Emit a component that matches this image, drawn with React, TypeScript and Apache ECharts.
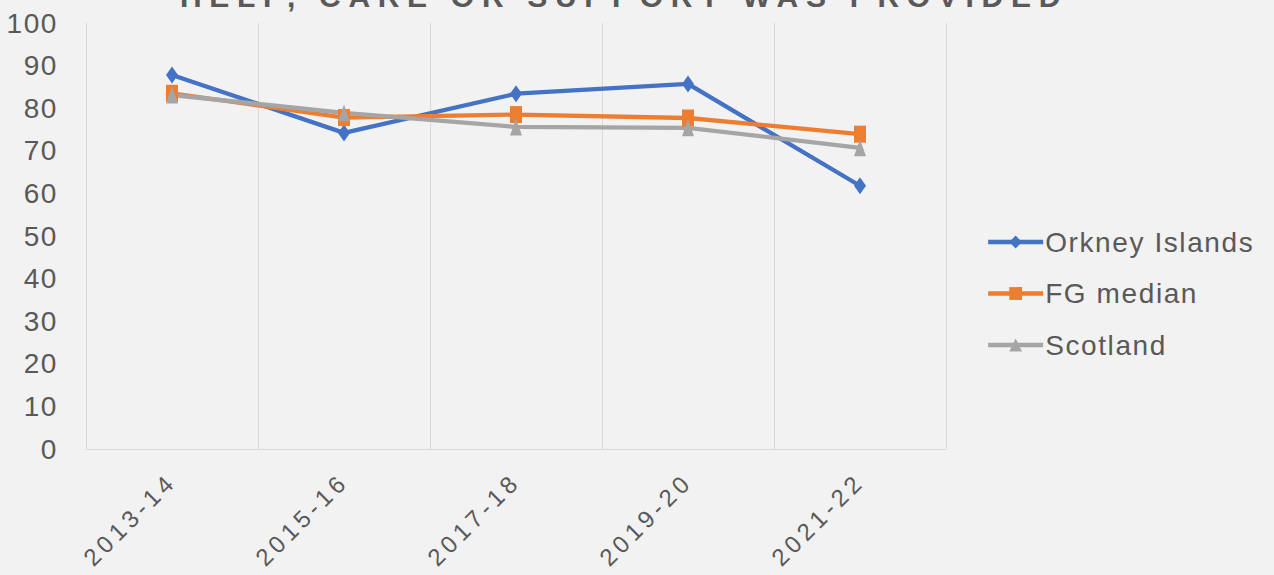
import React, { useEffect, useRef } from "react";
import * as echarts from "echarts";

const categories = ["2013-14", "2015-16", "2017-18", "2019-20", "2021-22"];
const orkney = [87.8, 74.2, 83.4, 85.7, 61.8];
const fgMedian = [83.5, 77.8, 78.5, 77.7, 73.9];
const scotland = [83.1, 78.9, 75.6, 75.4, 70.7];
const titleText = "HELP, CARE OR SUPPORT WAS PROVIDED";

const FONT = "Arial, 'Liberation Sans', sans-serif";

const css = `
#chart-box svg text[style*="24px"] { letter-spacing: 4.5px; }
#chart-box svg text[style*="28px"] { letter-spacing: 1.6px; }
#chart-box svg text[style*="30px"] { letter-spacing: 7.7px; }
`;

export default function App() {
  const ref = useRef<HTMLDivElement>(null);
  useEffect(() => {
    if (!ref.current) return;
    const chart = echarts.init(ref.current, null, { renderer: "svg" });
    const mk = (name: string, data: number[], color: string, symbol: string) => ({
      name,
      type: "line",
      data,
      symbol,
      symbolSize: [12, 17],
      lineStyle: { color, width: 4.3 },
      itemStyle: { color },
      z: 3,
    });
    chart.setOption({
      animation: false,
      backgroundColor: "#f2f2f2",
      textStyle: { fontFamily: FONT },
      graphic: [
        {
          type: "text",
          left: 180,
          top: -19,
          style: {
            text: titleText,
            font: `bold 30px ${FONT}`,
            fill: "#595959",
          },
        },
      ],
      grid: { left: 86, right: 328, top: 23, bottom: 126 },
      legend: {
        orient: "vertical",
        left: 981,
        top: 223,
        itemWidth: 55,
        itemHeight: 16,
        itemGap: 23.5,
        lineStyle: { width: 4.3 },
        textStyle: { fontSize: 28, color: "#595959", fontFamily: FONT, padding: [0, 0, 0, -3] },
        data: ["Orkney Islands", "FG median", "Scotland"],
      },
      xAxis: {
        type: "category",
        data: categories,
        boundaryGap: true,
        axisLine: { lineStyle: { color: "#d9d9d9", width: 1 } },
        axisTick: { show: false },
        splitLine: { show: true, lineStyle: { color: "#d9d9d9", width: 1 } },
        axisLabel: {
          rotate: 45,
          fontSize: 24,
          color: "#595959",
          fontFamily: FONT,
          margin: 28,
        },
      },
      yAxis: {
        type: "value",
        min: 0,
        max: 100,
        interval: 10,
        axisLine: { show: true, lineStyle: { color: "#d9d9d9" } },
        axisTick: { show: false },
        splitLine: { show: false },
        axisLabel: { fontSize: 28, color: "#595959", fontFamily: FONT, margin: 28 },
      },
      series: [
        mk("Orkney Islands", orkney, "#4472c4", "diamond"),
        mk("FG median", fgMedian, "#ed7d31", "rect"),
        mk("Scotland", scotland, "#a5a5a5", "triangle"),
      ],
    });
    return () => chart.dispose();
  }, []);
  return (
    <>
      <style>{css}</style>
      <div
        id="chart-box"
        ref={ref}
        style={{ position: "fixed", left: 0, top: 0, width: 1274, height: 575 }}
      />
    </>
  );
}
